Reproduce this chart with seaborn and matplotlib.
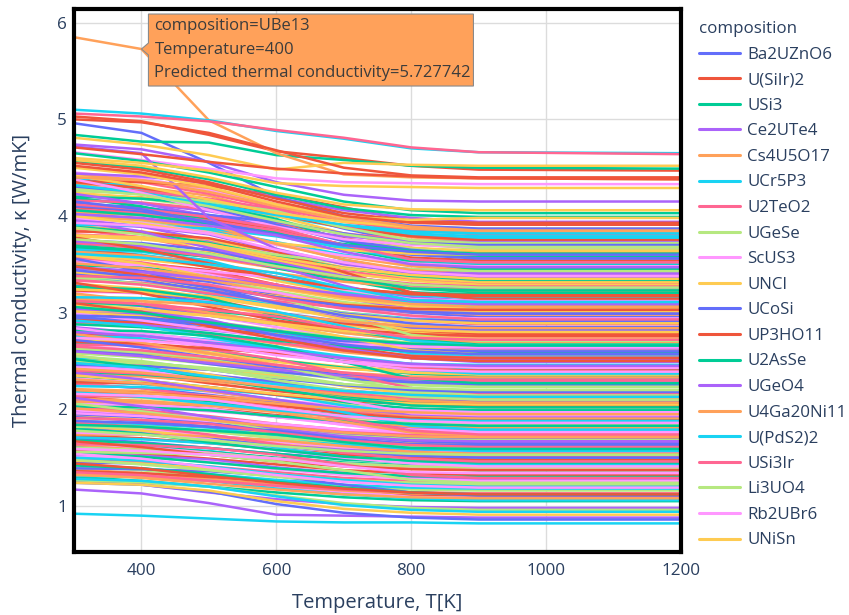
import matplotlib
matplotlib.use("Agg")
import matplotlib.pyplot as plt
import matplotlib.transforms as mtransforms
from matplotlib.lines import Line2D
from matplotlib.patches import Polygon
import pandas as pd
import seaborn as sns

temperature = [300, 400, 500, 600, 700, 800, 900, 1200]

# Predicted thermal conductivity (W/mK) per composition, one block of ten traces each
block_01 = [
    ("Ba2UZnO6", [2.26, 2.22, 2.15, 2.07, 1.99, 1.93, 1.91, 1.91]),
    ("U(SiIr)2", [3.54, 3.51, 3.44, 3.29, 3.16, 3.08, 3.04, 3.04]),
    ("USi3", [1.30, 1.26, 1.20, 1.14, 1.09, 1.06, 1.05, 1.05]),
    ("Ce2UTe4", [4.18, 4.13, 4.05, 3.94, 3.76, 3.61, 3.58, 3.58]),
    ("Cs4U5O17", [2.90, 2.86, 2.78, 2.68, 2.59, 2.53, 2.50, 2.50]),
    ("UCr5P3", [1.62, 1.61, 1.57, 1.49, 1.43, 1.39, 1.37, 1.37]),
    ("U2TeO2", [3.86, 3.78, 3.64, 3.52, 3.41, 3.34, 3.31, 3.31]),
    ("UGeSe", [2.58, 2.54, 2.47, 2.39, 2.31, 2.25, 2.23, 2.23]),
    ("ScUS3", [3.22, 3.20, 3.13, 2.99, 2.88, 2.81, 2.77, 2.77]),
    ("UNCl", [1.94, 1.89, 1.82, 1.75, 1.69, 1.65, 1.64, 1.64]),
]
block_02 = [
    ("UCoSi", [3.41, 3.39, 3.32, 3.18, 3.07, 3.00, 2.96, 2.96]),
    ("UP3HO11", [2.13, 2.08, 2.01, 1.94, 1.88, 1.84, 1.83, 1.83]),
    ("U2AsSe", [4.05, 4.01, 3.93, 3.83, 3.66, 3.53, 3.50, 3.50]),
    ("UGeO4", [1.81, 1.78, 1.73, 1.67, 1.61, 1.58, 1.56, 1.56]),
    ("U4Ga20Ni11", [2.77, 2.75, 2.70, 2.59, 2.51, 2.45, 2.42, 2.42]),
    ("U(PdS2)2", [4.37, 4.28, 4.13, 4.00, 3.88, 3.80, 3.77, 3.77]),
    ("USi3Ir", [1.49, 1.46, 1.41, 1.35, 1.29, 1.26, 1.24, 1.24]),
    ("Li3UO4", [3.09, 3.07, 3.01, 2.89, 2.79, 2.72, 2.69, 2.69]),
    ("Rb2UBr6", [2.45, 2.40, 2.31, 2.23, 2.16, 2.12, 2.10, 2.10]),
    ("UNiSn", [3.73, 3.69, 3.62, 3.53, 3.38, 3.25, 3.23, 3.23]),
]
block_03 = [
    ("UO2", [1.70, 1.66, 1.60, 1.54, 1.49, 1.46, 1.45, 1.45]),
    ("UC", [2.98, 2.95, 2.89, 2.82, 2.70, 2.60, 2.58, 2.58]),
    ("UN", [2.34, 2.30, 2.23, 2.15, 2.07, 2.01, 1.99, 1.99]),
    ("US", [3.62, 3.59, 3.52, 3.37, 3.24, 3.16, 3.12, 3.12]),
    ("USe", [1.38, 1.34, 1.28, 1.22, 1.17, 1.14, 1.13, 1.13]),
    ("UTe", [3.94, 3.90, 3.82, 3.72, 3.55, 3.42, 3.39, 3.39]),
    ("UP", [2.02, 1.99, 1.93, 1.85, 1.79, 1.74, 1.72, 1.72]),
    ("UAs", [4.26, 4.23, 4.14, 3.96, 3.81, 3.71, 3.66, 3.66]),
    ("USb", [2.66, 2.61, 2.52, 2.44, 2.37, 2.33, 2.31, 2.31]),
    ("UBi", [3.30, 3.25, 3.16, 3.05, 2.95, 2.88, 2.85, 2.85]),
]
block_04 = [
    ("UGe3", [4.13, 4.09, 4.01, 3.91, 3.74, 3.61, 3.58, 3.58]),
    ("USi2", [1.57, 1.54, 1.49, 1.43, 1.37, 1.34, 1.32, 1.32]),
    ("U3Si2", [3.49, 3.47, 3.40, 3.26, 3.15, 3.08, 3.04, 3.04]),
    ("U3Si", [2.85, 2.79, 2.69, 2.60, 2.52, 2.47, 2.45, 2.45]),
    ("UB2", [2.21, 2.19, 2.14, 2.09, 2.00, 1.92, 1.91, 1.91]),
    ("UB4", [2.53, 2.49, 2.42, 2.34, 2.26, 2.20, 2.18, 2.18]),
    ("UB12", [3.81, 3.78, 3.71, 3.56, 3.43, 3.35, 3.31, 3.31]),
    ("UAl2", [1.89, 1.84, 1.77, 1.70, 1.64, 1.60, 1.59, 1.59]),
    ("UAl3", [4.45, 4.39, 4.27, 4.12, 3.98, 3.89, 3.85, 3.85]),
    ("UFe2", [3.17, 3.15, 3.09, 2.97, 2.87, 2.80, 2.77, 2.77]),
]
block_05 = [
    ("UCo", [2.62, 2.58, 2.51, 2.43, 2.35, 2.29, 2.27, 2.27]),
    ("UCo2", [4.22, 4.19, 4.10, 3.92, 3.77, 3.67, 3.62, 3.62]),
    ("UNi2", [1.66, 1.62, 1.56, 1.50, 1.45, 1.42, 1.41, 1.41]),
    ("UNi5", [3.26, 3.22, 3.16, 3.08, 2.94, 2.83, 2.81, 2.81]),
    ("URu3", [3.90, 3.84, 3.73, 3.60, 3.47, 3.39, 3.35, 3.35]),
    ("UPt3", [1.98, 1.96, 1.92, 1.83, 1.75, 1.70, 1.68, 1.68]),
    ("URh3", [2.94, 2.88, 2.78, 2.69, 2.61, 2.56, 2.54, 2.54]),
    ("UPd3", [2.30, 2.27, 2.22, 2.16, 2.05, 1.97, 1.95, 1.95]),
    ("UIr3", [1.34, 1.31, 1.26, 1.20, 1.14, 1.11, 1.09, 1.09]),
    ("UOs2", [3.58, 3.55, 3.48, 3.33, 3.20, 3.12, 3.08, 3.08]),
]
block_06 = [
    ("UMn2", [1.45, 1.44, 1.40, 1.32, 1.26, 1.22, 1.20, 1.20]),
    ("U6Fe", [2.41, 2.36, 2.27, 2.19, 2.12, 2.08, 2.06, 2.06]),
    ("U6Mn", [3.69, 3.65, 3.58, 3.49, 3.34, 3.21, 3.19, 3.19]),
    ("U6Co", [2.09, 2.06, 2.00, 1.92, 1.86, 1.81, 1.79, 1.79]),
    ("U6Ni", [4.33, 4.30, 4.21, 4.03, 3.88, 3.78, 3.73, 3.73]),
    ("UGa3", [3.37, 3.30, 3.19, 3.09, 3.00, 2.94, 2.92, 2.92]),
    ("UIn3", [1.77, 1.75, 1.71, 1.67, 1.59, 1.53, 1.52, 1.52]),
    ("USn3", [4.01, 3.95, 3.84, 3.71, 3.58, 3.50, 3.46, 3.46]),
    ("UPb3", [3.05, 3.03, 2.97, 2.85, 2.75, 2.68, 2.65, 2.65]),
    ("UTl3", [2.73, 2.68, 2.59, 2.51, 2.44, 2.40, 2.38, 2.38]),
]
block_07 = [
    ("UCu5", [3.13, 3.07, 2.97, 2.88, 2.80, 2.75, 2.73, 2.73]),
    ("UAu2", [4.09, 4.05, 3.97, 3.87, 3.70, 3.57, 3.54, 3.54]),
    ("UZn12", [2.17, 2.14, 2.08, 2.00, 1.94, 1.89, 1.87, 1.87]),
    ("UCd11", [1.53, 1.52, 1.48, 1.40, 1.34, 1.30, 1.28, 1.28]),
    ("UHg2", [3.77, 3.69, 3.57, 3.46, 3.36, 3.29, 3.27, 3.27]),
    ("UGa2", [2.81, 2.78, 2.72, 2.65, 2.53, 2.43, 2.41, 2.41]),
    ("UGe2", [4.41, 4.35, 4.23, 4.08, 3.94, 3.85, 3.81, 3.81]),
    ("U3Ge5", [3.45, 3.43, 3.36, 3.22, 3.11, 3.04, 3.00, 3.00]),
    ("UO3", [1.85, 1.80, 1.73, 1.66, 1.60, 1.56, 1.55, 1.55]),
    ("U3O8", [2.49, 2.46, 2.41, 2.35, 2.24, 2.16, 2.14, 2.14]),
]
block_08 = [
    ("U4O9", [4.29, 4.24, 4.16, 4.05, 3.87, 3.72, 3.69, 3.69]),
    ("UF4", [1.73, 1.70, 1.65, 1.59, 1.53, 1.50, 1.48, 1.48]),
    ("UCl3", [2.69, 2.67, 2.62, 2.51, 2.43, 2.37, 2.34, 2.34]),
    ("UCl4", [3.97, 3.89, 3.75, 3.63, 3.52, 3.45, 3.42, 3.42]),
    ("UBr3", [2.37, 2.34, 2.29, 2.23, 2.12, 2.04, 2.02, 2.02]),
    ("UBr4", [3.65, 3.60, 3.50, 3.37, 3.26, 3.18, 3.15, 3.15]),
    ("UI3", [3.33, 3.31, 3.24, 3.10, 2.99, 2.92, 2.88, 2.88]),
    ("UI4", [1.41, 1.37, 1.31, 1.25, 1.20, 1.17, 1.16, 1.16]),
    ("UOS", [2.05, 2.03, 1.98, 1.93, 1.84, 1.76, 1.75, 1.75]),
    ("UOSe", [3.01, 2.97, 2.89, 2.79, 2.70, 2.64, 2.61, 2.61]),
]
block_09 = [
    ("UOTe", [1.95, 1.92, 1.86, 1.78, 1.72, 1.67, 1.65, 1.65]),
    ("U2N3", [3.23, 3.21, 3.14, 3.00, 2.89, 2.82, 2.78, 2.78]),
    ("U2C3", [4.19, 4.10, 3.95, 3.82, 3.70, 3.62, 3.59, 3.59]),
    ("UC2", [2.91, 2.88, 2.82, 2.75, 2.63, 2.53, 2.51, 2.51]),
    ("UPt2Si2", [1.63, 1.60, 1.55, 1.49, 1.43, 1.40, 1.38, 1.38]),
    ("URu2Si2", [1.31, 1.30, 1.26, 1.18, 1.12, 1.08, 1.06, 1.06]),
    ("UNi2Si2", [2.27, 2.22, 2.13, 2.05, 1.98, 1.94, 1.92, 1.92]),
    ("UPd2Al3", [2.59, 2.56, 2.51, 2.45, 2.34, 2.26, 2.24, 2.24]),
    ("UNi2Al3", [3.55, 3.50, 3.40, 3.27, 3.16, 3.08, 3.05, 3.05]),
    ("UCoGe", [3.87, 3.84, 3.76, 3.59, 3.46, 3.36, 3.32, 3.32]),
]
block_10 = [
    ("URhGe", [3.75, 3.72, 3.65, 3.50, 3.37, 3.29, 3.25, 3.25]),
    ("UIrGe", [2.79, 2.74, 2.65, 2.57, 2.50, 2.46, 2.44, 2.44]),
    ("UPtGe", [3.11, 3.08, 3.02, 2.95, 2.83, 2.73, 2.71, 2.71]),
    ("UNiGe", [2.47, 2.43, 2.36, 2.28, 2.20, 2.14, 2.12, 2.12]),
    ("UCoAl", [3.43, 3.41, 3.34, 3.20, 3.09, 3.02, 2.98, 2.98]),
    ("URhAl", [4.39, 4.30, 4.15, 4.02, 3.90, 3.82, 3.79, 3.79]),
    ("UNiAl", [4.07, 4.03, 3.95, 3.85, 3.68, 3.55, 3.52, 3.52]),
    ("UPtAl", [2.15, 2.12, 2.06, 1.98, 1.92, 1.87, 1.85, 1.85]),
    ("UPdSn", [1.51, 1.50, 1.46, 1.38, 1.32, 1.28, 1.26, 1.26]),
    ("UPtSn", [1.83, 1.78, 1.71, 1.64, 1.58, 1.54, 1.53, 1.53]),
]
block_11 = [
    ("URhSn", [3.28, 3.21, 3.10, 3.00, 2.91, 2.85, 2.83, 2.83]),
    ("UCuSn", [1.36, 1.34, 1.30, 1.26, 1.18, 1.12, 1.11, 1.11]),
    ("Li2UO4", [1.68, 1.65, 1.60, 1.54, 1.48, 1.45, 1.43, 1.43]),
    ("Na2UO4", [3.92, 3.89, 3.81, 3.64, 3.51, 3.41, 3.37, 3.37]),
    ("K2UO4", [2.64, 2.59, 2.50, 2.42, 2.35, 2.31, 2.29, 2.29]),
    ("Rb2UO4", [2.96, 2.93, 2.87, 2.80, 2.68, 2.58, 2.56, 2.56]),
    ("Cs2UO4", [2.00, 1.97, 1.91, 1.83, 1.77, 1.72, 1.70, 1.70]),
    ("BaUO4", [3.60, 3.57, 3.50, 3.35, 3.22, 3.14, 3.10, 3.10]),
    ("SrUO4", [2.32, 2.27, 2.18, 2.10, 2.03, 1.99, 1.97, 1.97]),
    ("CaUO4", [4.24, 4.19, 4.11, 4.00, 3.82, 3.67, 3.64, 3.64]),
]
block_12 = [
    ("MgUO4", [2.43, 2.40, 2.35, 2.29, 2.18, 2.10, 2.08, 2.08]),
    ("Na4UO5", [4.35, 4.29, 4.17, 4.02, 3.88, 3.79, 3.75, 3.75]),
    ("Ba3UO6", [3.71, 3.68, 3.61, 3.46, 3.33, 3.25, 3.21, 3.21]),
    ("Sr3UO6", [1.79, 1.75, 1.69, 1.63, 1.58, 1.55, 1.54, 1.54]),
    ("Ca3UO6", [2.11, 2.09, 2.04, 1.99, 1.90, 1.82, 1.81, 1.81]),
    ("Ba2MgUO6", [4.03, 3.97, 3.86, 3.73, 3.60, 3.52, 3.48, 3.48]),
    ("Ba2CaUO6", [2.75, 2.73, 2.68, 2.57, 2.49, 2.43, 2.40, 2.40]),
    ("Ba2SrUO6", [3.07, 3.01, 2.91, 2.82, 2.74, 2.69, 2.67, 2.67]),
    ("Ba2NiUO6", [3.39, 3.35, 3.29, 3.21, 3.07, 2.96, 2.94, 2.94]),
    ("Ba2CoUO6", [1.47, 1.44, 1.39, 1.33, 1.27, 1.24, 1.22, 1.22]),
]
block_13 = [
    ("Ba2CuUO6", [4.11, 4.05, 3.94, 3.81, 3.68, 3.60, 3.56, 3.56]),
    ("Ba2FeUO6", [2.19, 2.17, 2.13, 2.04, 1.96, 1.91, 1.89, 1.89]),
    ("Sr2CoUO6", [1.55, 1.51, 1.45, 1.39, 1.34, 1.31, 1.30, 1.30]),
    ("Sr2NiUO6", [3.47, 3.43, 3.37, 3.29, 3.15, 3.04, 3.02, 3.02]),
    ("Sr2MgUO6", [4.43, 4.37, 4.25, 4.10, 3.96, 3.87, 3.83, 3.83]),
    ("Ca2MgUO6", [1.87, 1.85, 1.81, 1.72, 1.64, 1.59, 1.57, 1.57]),
    ("K2U2O7", [3.15, 3.09, 2.99, 2.90, 2.82, 2.77, 2.75, 2.75]),
    ("Na2U2O7", [2.51, 2.48, 2.43, 2.37, 2.26, 2.18, 2.16, 2.16]),
    ("Cs2U2O7", [2.83, 2.79, 2.71, 2.61, 2.52, 2.46, 2.43, 2.43]),
    ("UTiO5", [3.79, 3.76, 3.69, 3.54, 3.41, 3.33, 3.29, 3.29]),
]
block_14 = [
    ("Cs2UCl6", [1.75, 1.74, 1.70, 1.62, 1.56, 1.52, 1.50, 1.50]),
    ("Rb2UCl6", [3.67, 3.59, 3.47, 3.36, 3.26, 3.19, 3.17, 3.17]),
    ("K2UCl6", [2.39, 2.36, 2.31, 2.25, 2.14, 2.06, 2.04, 2.04]),
    ("Na2UF6", [3.03, 2.99, 2.91, 2.81, 2.72, 2.66, 2.63, 2.63]),
    ("K2UF6", [3.99, 3.96, 3.88, 3.71, 3.58, 3.48, 3.44, 3.44]),
    ("Rb2UF6", [1.43, 1.39, 1.33, 1.27, 1.22, 1.19, 1.18, 1.18]),
    ("Cs2UF6", [4.31, 4.26, 4.18, 4.07, 3.89, 3.74, 3.71, 3.71]),
    ("K3UF7", [3.35, 3.30, 3.21, 3.10, 3.00, 2.93, 2.90, 2.90]),
    ("Li4UF8", [2.07, 2.05, 2.01, 1.92, 1.84, 1.79, 1.77, 1.77]),
    ("UOF2", [2.71, 2.66, 2.57, 2.49, 2.42, 2.38, 2.36, 2.36]),
]
block_15 = [
    ("UO2F2", [2.61, 2.56, 2.47, 2.39, 2.32, 2.28, 2.26, 2.26]),
    ("UO2Cl2", [2.93, 2.90, 2.84, 2.77, 2.65, 2.55, 2.53, 2.53]),
    ("UO2Br2", [3.89, 3.83, 3.72, 3.59, 3.46, 3.38, 3.34, 3.34]),
    ("UOCl2", [1.97, 1.95, 1.91, 1.82, 1.74, 1.69, 1.67, 1.67]),
    ("UOBr2", [1.33, 1.29, 1.23, 1.17, 1.12, 1.09, 1.08, 1.08]),
    ("UNBr", [2.29, 2.26, 2.21, 2.15, 2.04, 1.96, 1.94, 1.94]),
    ("UNI", [3.57, 3.52, 3.42, 3.29, 3.18, 3.10, 3.07, 3.07]),
    ("UPS", [4.21, 4.18, 4.09, 3.91, 3.76, 3.66, 3.61, 3.61]),
    ("UAsS", [1.65, 1.61, 1.55, 1.49, 1.44, 1.41, 1.40, 1.40]),
    ("USbTe", [3.25, 3.21, 3.15, 3.07, 2.93, 2.82, 2.80, 2.80]),
]
block_16 = [
    ("FeUS3", [1.92, 1.88, 1.82, 1.77, 1.73, 1.71, 1.70, 1.70]),
    ("MnUS3", [3.84, 3.83, 3.77, 3.63, 3.42, 3.21, 3.14, 3.14]),
    ("NiUS3", [2.88, 2.85, 2.79, 2.71, 2.65, 2.60, 2.58, 2.58]),
    ("CoUS3", [1.28, 1.22, 1.14, 1.07, 1.02, 0.99, 0.98, 0.98]),
    ("BaUSe3", [3.20, 3.12, 3.00, 2.89, 2.79, 2.72, 2.70, 2.70]),
    ("SrUSe3", [2.24, 2.23, 2.19, 2.10, 1.97, 1.83, 1.79, 1.79]),
    ("PbUS3", [4.16, 4.14, 4.07, 3.93, 3.82, 3.75, 3.71, 3.71]),
    ("VUS3", [1.60, 1.58, 1.54, 1.49, 1.44, 1.41, 1.40, 1.40]),
    ("TiUS3", [3.52, 3.49, 3.43, 3.36, 3.24, 3.14, 3.12, 3.12]),
    ("CuUS3", [2.56, 2.47, 2.36, 2.24, 2.16, 2.12, 2.11, 2.11]),
]
block_17 = [
    ("UNiAl2", [3.56, 3.43, 3.27, 3.10, 2.99, 2.93, 2.91, 2.91]),
    ("UCoAl2", [2.28, 2.27, 2.23, 2.15, 2.09, 2.05, 2.03, 2.03]),
    ("UFeAl2", [4.20, 4.18, 4.12, 3.97, 3.75, 3.52, 3.45, 3.45]),
    ("UMnAl2", [2.60, 2.55, 2.48, 2.41, 2.35, 2.31, 2.30, 2.30]),
    ("UCuAl2", [1.32, 1.30, 1.26, 1.21, 1.16, 1.13, 1.12, 1.12]),
    ("UPdAl2", [2.92, 2.86, 2.75, 2.62, 2.49, 2.41, 2.37, 2.37]),
    ("UPtAl2", [1.64, 1.63, 1.60, 1.53, 1.43, 1.32, 1.29, 1.29]),
    ("URhAl2", [3.88, 3.81, 3.70, 3.60, 3.51, 3.45, 3.43, 3.43]),
    ("URuAl2", [1.96, 1.93, 1.88, 1.82, 1.71, 1.63, 1.61, 1.61]),
    ("UIrAl2", [3.24, 3.22, 3.17, 3.06, 2.98, 2.92, 2.89, 2.89]),
]
block_18 = [
    ("UNiGa", [2.95, 2.92, 2.87, 2.81, 2.70, 2.62, 2.60, 2.60]),
    ("UCoGa", [1.67, 1.61, 1.53, 1.46, 1.41, 1.38, 1.37, 1.37]),
    ("UFeGa", [3.27, 3.24, 3.15, 2.97, 2.82, 2.72, 2.67, 2.67]),
    ("UPdGa", [4.23, 4.13, 4.00, 3.88, 3.79, 3.74, 3.73, 3.73]),
    ("UPtGa", [2.31, 2.27, 2.19, 2.09, 2.00, 1.94, 1.91, 1.91]),
    ("URhGa", [3.91, 3.90, 3.87, 3.79, 3.67, 3.55, 3.51, 3.51]),
    ("UIrGa", [1.35, 1.32, 1.26, 1.21, 1.17, 1.14, 1.13, 1.13]),
    ("UCuGa", [2.63, 2.59, 2.53, 2.45, 2.31, 2.20, 2.18, 2.18]),
    ("UAuGa", [1.99, 1.96, 1.91, 1.85, 1.79, 1.76, 1.74, 1.74]),
    ("UAgGa", [3.59, 3.51, 3.37, 3.25, 3.14, 3.07, 3.04, 3.04]),
]
block_19 = [
    ("UNiSi", [1.39, 1.38, 1.36, 1.31, 1.22, 1.14, 1.11, 1.11]),
    ("UFeSi", [3.31, 3.20, 3.06, 2.92, 2.83, 2.78, 2.76, 2.76]),
    ("URhSi", [2.03, 2.02, 1.99, 1.93, 1.88, 1.85, 1.83, 1.83]),
    ("UIrSi", [3.95, 3.84, 3.67, 3.52, 3.38, 3.28, 3.25, 3.25]),
    ("UPtSi", [3.63, 3.59, 3.51, 3.41, 3.32, 3.26, 3.23, 3.23]),
    ("UPdSi", [1.71, 1.69, 1.65, 1.60, 1.51, 1.44, 1.43, 1.43]),
    ("URuSi", [2.67, 2.66, 2.62, 2.52, 2.37, 2.22, 2.17, 2.17]),
    ("UOsSi", [4.27, 4.23, 4.15, 4.05, 3.88, 3.75, 3.72, 3.72]),
    ("UAuSi", [2.99, 2.92, 2.83, 2.74, 2.68, 2.65, 2.64, 2.64]),
    ("UCuSi", [2.35, 2.30, 2.23, 2.16, 2.10, 2.06, 2.05, 2.05]),
]
block_20 = [
    ("U2Co2Sn", [4.30, 4.23, 4.09, 3.91, 3.75, 3.65, 3.60, 3.60]),
    ("U2Ni2Sn", [2.70, 2.68, 2.63, 2.58, 2.49, 2.41, 2.40, 2.40]),
    ("U2Pd2Sn", [1.42, 1.39, 1.33, 1.25, 1.19, 1.14, 1.12, 1.12]),
    ("U2Pt2Sn", [2.38, 2.31, 2.20, 2.10, 2.01, 1.95, 1.93, 1.93]),
    ("U2Rh2Sn", [1.74, 1.74, 1.72, 1.68, 1.62, 1.56, 1.54, 1.54]),
    ("U2Ir2Sn", [3.66, 3.63, 3.54, 3.36, 3.21, 3.11, 3.06, 3.06]),
    ("U2Co2In", [3.34, 3.29, 3.20, 3.12, 3.05, 3.01, 2.99, 2.99]),
    ("U2Ni2In", [2.06, 1.98, 1.89, 1.79, 1.73, 1.69, 1.68, 1.68]),
    ("U2Pd2In", [3.98, 3.93, 3.83, 3.70, 3.59, 3.51, 3.48, 3.48]),
    ("U2Pt2In", [3.02, 3.01, 2.97, 2.88, 2.75, 2.61, 2.57, 2.57]),
]
block_21 = [
    ("UFe4P12", [2.72, 2.64, 2.54, 2.44, 2.37, 2.33, 2.32, 2.32]),
    ("URu4P12", [1.44, 1.39, 1.31, 1.24, 1.18, 1.14, 1.12, 1.12]),
    ("UOs4P12", [3.68, 3.64, 3.58, 3.50, 3.36, 3.25, 3.23, 3.23]),
    ("UFe4As12", [3.04, 3.01, 2.93, 2.76, 2.63, 2.53, 2.49, 2.49]),
    ("URu4As12", [2.08, 2.07, 2.04, 1.97, 1.87, 1.76, 1.73, 1.73]),
    ("UCo2P2", [4.32, 4.24, 4.12, 4.01, 3.91, 3.84, 3.82, 3.82]),
    ("UNi2P2", [2.40, 2.37, 2.31, 2.23, 2.17, 2.12, 2.10, 2.10]),
    ("UCu2P2", [3.36, 3.35, 3.29, 3.16, 2.97, 2.77, 2.71, 2.71]),
    ("UFe2P2", [1.76, 1.74, 1.69, 1.58, 1.50, 1.44, 1.41, 1.41]),
    ("URu2P2", [4.00, 3.92, 3.82, 3.72, 3.65, 3.61, 3.60, 3.60]),
]
block_22 = [
    ("LiUO3", [3.40, 3.34, 3.23, 3.10, 2.97, 2.89, 2.85, 2.85]),
    ("NaUO3", [4.36, 4.35, 4.31, 4.22, 4.09, 3.95, 3.91, 3.91]),
    ("KUO3", [1.80, 1.75, 1.66, 1.58, 1.51, 1.47, 1.45, 1.45]),
    ("RbUO3", [2.12, 2.03, 1.92, 1.80, 1.72, 1.68, 1.67, 1.67]),
    ("CsUO3", [4.04, 4.01, 3.91, 3.71, 3.55, 3.44, 3.39, 3.39]),
    ("AgUO3", [2.76, 2.74, 2.69, 2.64, 2.55, 2.47, 2.46, 2.46]),
    ("BaU2O7", [3.72, 3.67, 3.58, 3.47, 3.37, 3.30, 3.27, 3.27]),
    ("SrU4O13", [1.48, 1.43, 1.37, 1.30, 1.26, 1.24, 1.23, 1.23]),
    ("CaU2O7", [2.44, 2.40, 2.33, 2.24, 2.09, 1.96, 1.94, 1.94]),
    ("MgU2O7", [3.08, 3.04, 2.97, 2.89, 2.81, 2.75, 2.73, 2.73]),
]
block_23 = [
    ("Cs2UBr6", [2.46, 2.45, 2.41, 2.32, 2.25, 2.20, 2.18, 2.18]),
    ("K2UBr6", [3.10, 3.01, 2.86, 2.73, 2.61, 2.53, 2.50, 2.50]),
    ("Na2UBr6", [4.06, 4.01, 3.92, 3.81, 3.71, 3.64, 3.61, 3.61]),
    ("Cs2UI6", [3.74, 3.69, 3.60, 3.48, 3.28, 3.12, 3.09, 3.09]),
    ("Rb2UI6", [2.78, 2.69, 2.58, 2.46, 2.38, 2.34, 2.33, 2.33]),
    ("K2UI6", [1.50, 1.47, 1.41, 1.33, 1.27, 1.22, 1.20, 1.20]),
    ("CsUF5", [2.14, 2.13, 2.10, 2.02, 1.90, 1.78, 1.74, 1.74]),
    ("RbUF5", [1.82, 1.81, 1.78, 1.71, 1.66, 1.62, 1.60, 1.60]),
    ("KUF5", [4.38, 4.24, 4.06, 3.89, 3.76, 3.70, 3.68, 3.68]),
    ("NaUF5", [3.42, 3.36, 3.26, 3.17, 3.09, 3.04, 3.02, 3.02]),
]
block_24 = [
    ("UOI", [4.10, 4.07, 4.01, 3.94, 3.82, 3.72, 3.70, 3.70]),
    ("UOF", [3.78, 3.66, 3.51, 3.36, 3.25, 3.20, 3.18, 3.18]),
    ("UNF", [2.82, 2.81, 2.76, 2.65, 2.49, 2.32, 2.27, 2.27]),
    ("UNO", [3.46, 3.42, 3.35, 3.27, 3.19, 3.13, 3.11, 3.11]),
    ("USO", [3.14, 3.12, 3.08, 2.99, 2.91, 2.86, 2.84, 2.84]),
    ("UTeO", [2.18, 2.13, 2.06, 1.99, 1.93, 1.89, 1.88, 1.88]),
    ("USeO3", [1.86, 1.82, 1.74, 1.64, 1.55, 1.49, 1.46, 1.46]),
    ("UTeO3", [2.50, 2.48, 2.42, 2.30, 2.20, 2.13, 2.10, 2.10]),
    ("UTe2O5", [1.54, 1.49, 1.40, 1.32, 1.25, 1.21, 1.19, 1.19]),
    ("USe2O5", [4.42, 4.31, 4.17, 4.03, 3.94, 3.89, 3.87, 3.87]),
]
block_25 = [
    ("U3P4", [1.88, 1.86, 1.82, 1.78, 1.70, 1.64, 1.63, 1.63]),
    ("U3As4", [3.48, 3.39, 3.28, 3.16, 3.08, 3.04, 3.03, 3.03]),
    ("U3Sb4", [2.52, 2.44, 2.32, 2.21, 2.11, 2.04, 2.02, 2.02]),
    ("U3Bi4", [4.44, 4.41, 4.34, 4.19, 4.06, 3.98, 3.94, 3.94]),
    ("U3Te4", [2.20, 2.17, 2.12, 2.06, 2.00, 1.97, 1.95, 1.95]),
    ("U3Se4", [3.16, 3.15, 3.11, 3.01, 2.86, 2.71, 2.66, 2.66]),
    ("U3S4", [4.12, 4.07, 3.99, 3.88, 3.70, 3.55, 3.52, 3.52]),
    ("U2Zn17", [1.56, 1.55, 1.53, 1.46, 1.37, 1.27, 1.24, 1.24]),
    ("U2Fe17", [2.84, 2.76, 2.66, 2.56, 2.49, 2.45, 2.44, 2.44]),
    ("U2Co17", [3.80, 3.78, 3.71, 3.57, 3.46, 3.39, 3.35, 3.35]),
]
block_26 = [
    ("UPdSb", [4.96, 4.86, 4.55, 4.20, 4.00, 3.90, 3.87, 3.87]),
    ("UIr2Si2", [5.03, 4.98, 4.84, 4.67, 4.60, 4.52, 4.48, 4.47]),
    ("URh2Si2", [4.84, 4.77, 4.76, 4.63, 4.58, 4.52, 4.50, 4.49]),
    ("UFe2Si2", [4.74, 4.69, 4.56, 4.35, 4.22, 4.16, 4.15, 4.15]),
    ("UBe13", [5.85, 5.727742, 4.99, 4.65, 4.43, 4.40, 4.39, 4.38]),
    ("UCo2Si2", [5.10, 5.06, 4.99, 4.88, 4.80, 4.70, 4.66, 4.65]),
    ("UOs2Si2", [5.06, 5.03, 4.98, 4.89, 4.81, 4.71, 4.66, 4.64]),
    ("UCu2Si2", [4.28, 4.22, 4.10, 3.95, 3.81, 3.72, 3.68, 3.68]),
    ("UAu2Si2", [4.66, 4.58, 4.49, 4.39, 4.35, 4.34, 4.33, 4.33]),
    ("UPd2Si2", [4.81, 4.74, 4.63, 4.48, 4.55, 4.53, 4.52, 4.52]),
]
block_27 = [
    ("UCo2Ge2", [4.15, 4.07, 3.93, 3.81, 3.70, 3.63, 3.60, 3.60]),
    ("UNi2Ge2", [5.00, 4.97, 4.86, 4.68, 4.50, 4.42, 4.40, 4.40]),
    ("UCu2Ge2", [4.65, 4.57, 4.45, 4.30, 4.15, 4.06, 4.03, 4.03]),
    ("URu2Ge2", [4.72, 4.65, 3.98, 3.66, 3.50, 3.42, 3.40, 3.40]),
    ("UPtSb", [3.51, 3.46, 3.37, 3.26, 3.16, 3.09, 3.06, 3.06]),
    ("UAuSb", [0.92, 0.90, 0.87, 0.84, 0.83, 0.83, 0.82, 0.82]),
    ("UCuSb2", [1.91, 1.89, 1.85, 1.76, 1.68, 1.63, 1.61, 1.61]),
    ("UAgSb2", [2.55, 2.50, 2.41, 2.33, 2.26, 2.22, 2.20, 2.20]),
    ("UAuSb2", [1.59, 1.57, 1.53, 1.49, 1.41, 1.35, 1.34, 1.34]),
    ("UNiSb2", [4.60, 4.55, 4.47, 4.34, 4.31, 4.30, 4.29, 4.29]),
]
block_28 = [
    ("UPtGa5", [2.97, 2.95, 2.89, 2.77, 2.67, 2.60, 2.57, 2.57]),
    ("URhGa5", [4.71, 4.64, 4.56, 4.49, 4.44, 4.41, 4.39, 4.38]),
    ("UCoGa5", [4.57, 4.50, 4.38, 4.22, 4.08, 4.01, 3.99, 3.99]),
    ("UNiGa5", [1.17, 1.13, 1.03, 0.91, 0.90, 0.89, 0.88, 0.88]),
    ("UFeGa5", [2.01, 1.96, 1.89, 1.82, 1.76, 1.72, 1.71, 1.71]),
    ("UIrGa5", [3.61, 3.57, 3.50, 3.41, 3.26, 3.13, 3.11, 3.11]),
    ("UMo2Al20", [2.65, 2.61, 2.54, 2.46, 2.38, 2.32, 2.30, 2.30]),
    ("UV2Al20", [1.26, 1.24, 1.20, 1.11, 1.03, 0.98, 0.96, 0.96]),
    ("UTi2Al20", [3.93, 3.90, 3.82, 3.65, 3.52, 3.42, 3.38, 3.38]),
    ("UFe4Al8", [4.58, 4.52, 4.40, 4.24, 4.12, 4.07, 4.06, 4.06]),
]
block_29 = [
    ("UCu4Al8", [3.44, 3.37, 3.26, 3.16, 3.07, 3.01, 2.99, 2.99]),
    ("UMn4Al8", [4.55, 4.48, 4.35, 4.18, 4.03, 3.95, 3.93, 3.93]),
    ("UCr4Al8", [1.84, 1.82, 1.78, 1.74, 1.66, 1.60, 1.59, 1.59]),
    ("U2Fe3Ge", [2.80, 2.76, 2.69, 2.61, 2.53, 2.47, 2.45, 2.45]),
    ("U2Ti", [4.40, 4.37, 4.29, 4.12, 3.99, 3.89, 3.85, 3.85]),
    ("U2Mo", [2.48, 2.43, 2.34, 2.26, 2.19, 2.15, 2.13, 2.13]),
    ("US2", [3.12, 3.09, 3.03, 2.96, 2.84, 2.74, 2.72, 2.72]),
    ("USe2", [3.76, 3.71, 3.61, 3.48, 3.37, 3.29, 3.26, 3.26]),
    ("UTe2", [2.16, 2.14, 2.10, 2.01, 1.93, 1.88, 1.86, 1.86]),
    ("US3", [4.50, 4.43, 4.30, 4.12, 3.99, 3.96, 3.98, 3.98]),
]
block_30 = [
    ("USe3", [1.24, 1.22, 1.15, 1.02, 0.93, 0.88, 0.86, 0.86]),
    ("UTe3", [4.52, 4.45, 4.33, 4.15, 4.00, 3.93, 3.91, 3.91]),
    ("U2S3", [3.06, 3.00, 2.90, 2.81, 2.73, 2.68, 2.66, 2.66]),
    ("U2Se3", [4.02, 3.98, 3.90, 3.80, 3.63, 3.50, 3.47, 3.47]),
    ("U2Te3", [2.42, 2.38, 2.31, 2.23, 2.15, 2.09, 2.07, 2.07]),
    ("U3S5", [1.28, 1.26, 1.20, 1.10, 1.01, 0.96, 0.94, 0.94]),
    ("U3Se5", [3.38, 3.36, 3.29, 3.15, 3.04, 2.97, 2.93, 2.93]),
    ("BaUS3", [1.78, 1.74, 1.68, 1.62, 1.57, 1.54, 1.53, 1.53]),
    ("SrUS3", [2.74, 2.71, 2.66, 2.60, 2.49, 2.41, 2.39, 2.39]),
    ("CrUS3", [1.24, 1.22, 1.16, 1.05, 0.97, 0.93, 0.91, 0.91]),
]

blocks = [block_01, block_02, block_03, block_04, block_05, block_06,
          block_07, block_08, block_09, block_10, block_11, block_12,
          block_13, block_14, block_15, block_16, block_17, block_18,
          block_19, block_20, block_21, block_22, block_23, block_24,
          block_25, block_26, block_27, block_28, block_29, block_30]

trace_colors = ["#636EFA", "#EF553B", "#00CC96", "#AB63FA", "#FFA15A",
                "#19D3F3", "#FF6692", "#B6E880", "#FF97FF", "#FECB52"]

hover_name = "UBe13"
hover_temperature = 400
legend_count = 20

# long-form table for seaborn
records = []
names = []
for block in blocks:
    for name, values in block:
        names.append(name)
        for t, k in zip(temperature, values):
            records.append((name, t, k))
df = pd.DataFrame(records, columns=["composition", "Temperature", "kappa"])
palette = {n: trace_colors[i % len(trace_colors)] for i, n in enumerate(names)}

sns.set_style("white")
plt.rcParams["font.family"] = ["Open Sans", "DejaVu Sans"]

text_color = "#2a3f5f"
W, H = 849, 615
fig = plt.figure(figsize=(W / 100, H / 100), dpi=100)
ax = fig.add_axes([74 / W, 63 / H, 607 / W, 543.5 / H])

sns.lineplot(data=df, x="Temperature", y="kappa", hue="composition",
             hue_order=names, palette=palette, estimator=None, errorbar=None,
             linewidth=1.8, legend=False, ax=ax)

ax.set_xlim(300, 1200)
ax.set_ylim(0.524, 6.147)
ax.set_xticks([400, 600, 800, 1000, 1200])
ax.set_yticks([1, 2, 3, 4, 5, 6])
ax.grid(True, color="#dcdcdc", linewidth=1.0)
ax.set_axisbelow(True)
for side in ["left", "right", "top", "bottom"]:
    ax.spines[side].set_visible(True)
    ax.spines[side].set_color("black")
    ax.spines[side].set_linewidth(3.0)
    ax.spines[side].set_zorder(5)
ax.tick_params(axis="both", direction="in", length=5, width=1.5, color="black",
               labelsize=12.3, labelcolor=text_color)
ax.tick_params(axis="y", pad=5)
ax.tick_params(axis="x", pad=8)

ax.set_xlabel("Temperature, T[K]", fontsize=14.5, color=text_color)
ax.set_ylabel("Thermal conductivity, κ [W/mK]", fontsize=14.5, color=text_color)
ax.xaxis.label.set_verticalalignment("center")
ax.yaxis.label.set_verticalalignment("center")
ax.xaxis.set_label_coords(0.5, -(603 - 552) / 543.5)
ax.yaxis.set_label_coords(-(74 - 22) / 607, 0.5)

# hover label for the highlighted point
hover_values = dict(block_26)[hover_name]
hover_k = hover_values[temperature.index(hover_temperature)]
tr = fig.dpi_scale_trans + mtransforms.ScaledTranslation(hover_temperature, hover_k, ax.transData)
px = 1 / 100
shape = [(0, 0), (7, 6), (7, 35), (332, 35), (332, -37), (7, -37), (7, -6)]
box = Polygon([(x * px, y * px) for x, y in shape], closed=True, transform=tr,
              facecolor=palette[hover_name], edgecolor="#8a8a8a", linewidth=0.8,
              zorder=10, clip_on=False)
ax.add_patch(box)
hover_lines = [f"composition={hover_name}",
               f"Temperature={hover_temperature}",
               f"Predicted thermal conductivity={hover_k:.6f}"]
for i, line in enumerate(hover_lines):
    ax.text(13 * px, (23 - 23.5 * i) * px, line, transform=tr, fontsize=12,
            color="#3c3c3c", va="center", ha="left", zorder=11, clip_on=False)

# legend shows the first traces only
legend_names = names[:legend_count]
handles = [Line2D([], [], color=palette[n], linewidth=2.2) for n in legend_names]
leg = ax.legend(handles, legend_names, title="composition", loc="upper left",
                bbox_to_anchor=(699 / W, 1 - 21 / H), bbox_transform=fig.transFigure,
                frameon=False, fontsize=12.2, title_fontsize=12.2,
                handlelength=2.4, handletextpad=0.45, labelspacing=0.565,
                alignment="left", borderpad=0, borderaxespad=0)
for t in leg.get_texts():
    t.set_color(text_color)
leg.get_title().set_color(text_color)

fig.savefig("out.png", dpi=100)
